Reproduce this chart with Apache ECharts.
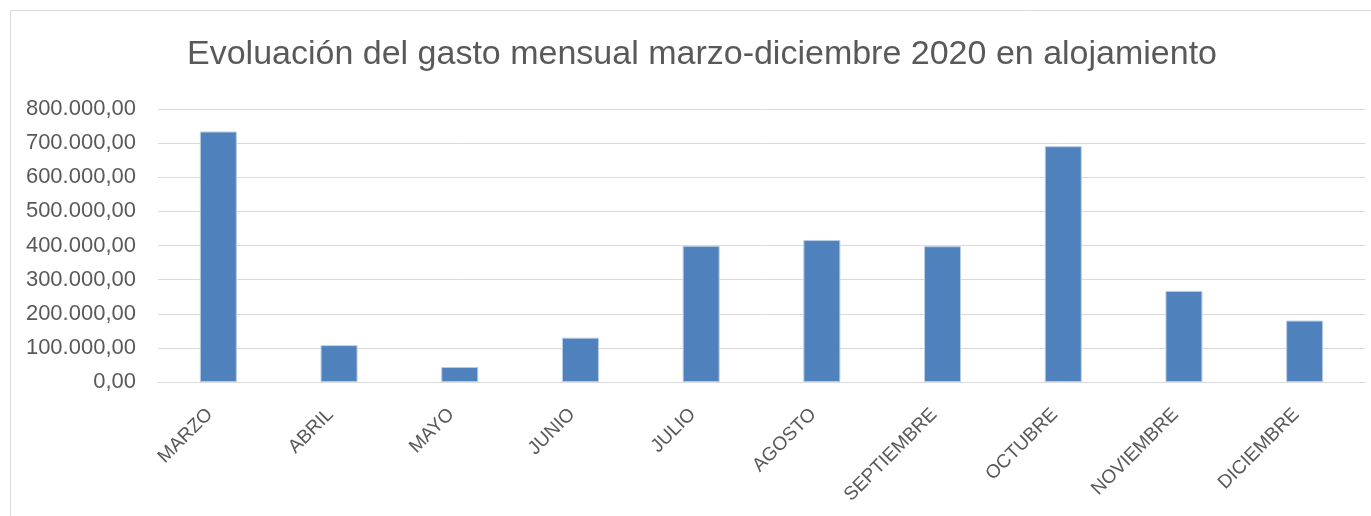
<!DOCTYPE html>
<html>
<head>
<meta charset="utf-8">
<script src="https://cdn.jsdelivr.net/npm/echarts@6/dist/echarts.min.js"></script>
<style>
  html, body { margin: 0; padding: 0; background: #fff; }
  #chart { width: 1371px; height: 516px; }
</style>
</head>
<body>
<div id="chart"></div>
<script>
// datos
const meses = ['MARZO', 'ABRIL', 'MAYO', 'JUNIO', 'JULIO', 'AGOSTO', 'SEPTIEMBRE', 'OCTUBRE', 'NOVIEMBRE', 'DICIEMBRE'];
const gasto = [734000, 108000, 44000, 130000, 399000, 416000, 398000, 691000, 267000, 180000];
const tituloTexto = 'Evoluación del gasto mensual marzo-diciembre 2020 en alojamiento';

// formato español: 800.000,00
function formatoES(v) {
  const entero = Math.round(v).toString().replace(/\B(?=(\d{3})+(?!\d))/g, '.');
  return entero + ',00';
}

const chart = echarts.init(document.getElementById('chart'));
chart.setOption({
  animation: false,
  textStyle: { fontFamily: 'Liberation Sans' },
  title: {
    text: tituloTexto,
    left: 187,
    top: 38,
    padding: 0,
    textStyle: { fontSize: 34, fontWeight: 'normal', color: '#595959', fontFamily: 'Liberation Sans' }
  },
  graphic: [{
    type: 'rect',
    shape: { x: 10.5, y: 10.5, width: 1500, height: 700 },
    style: { fill: 'none', stroke: '#d9d9d9', lineWidth: 1 },
    silent: true
  }],
  grid: { left: 158, right: 6, top: 109, bottom: 134 },
  xAxis: {
    type: 'category',
    data: meses,
    axisLine: { lineStyle: { color: '#d9d9d9', width: 1 } },
    axisTick: { show: false },
    axisLabel: { rotate: 45, color: '#595959', fontSize: 19, margin: 21, interval: 0, padding: [0, 12, 0, 0] }
  },
  yAxis: {
    type: 'value',
    min: 0,
    max: 800000,
    interval: 100000,
    axisLine: { show: false },
    axisTick: { show: false },
    splitLine: { lineStyle: { color: '#d9d9d9', width: 1 } },
    axisLabel: { color: '#595959', fontSize: 22, margin: 22, formatter: formatoES }
  },
  series: [{
    type: 'bar',
    data: gasto,
    barWidth: 37,
    itemStyle: { color: '#4f81bd', borderColor: '#b9cde5', borderWidth: 1 }
  }]
});
</script>
</body>
</html>
